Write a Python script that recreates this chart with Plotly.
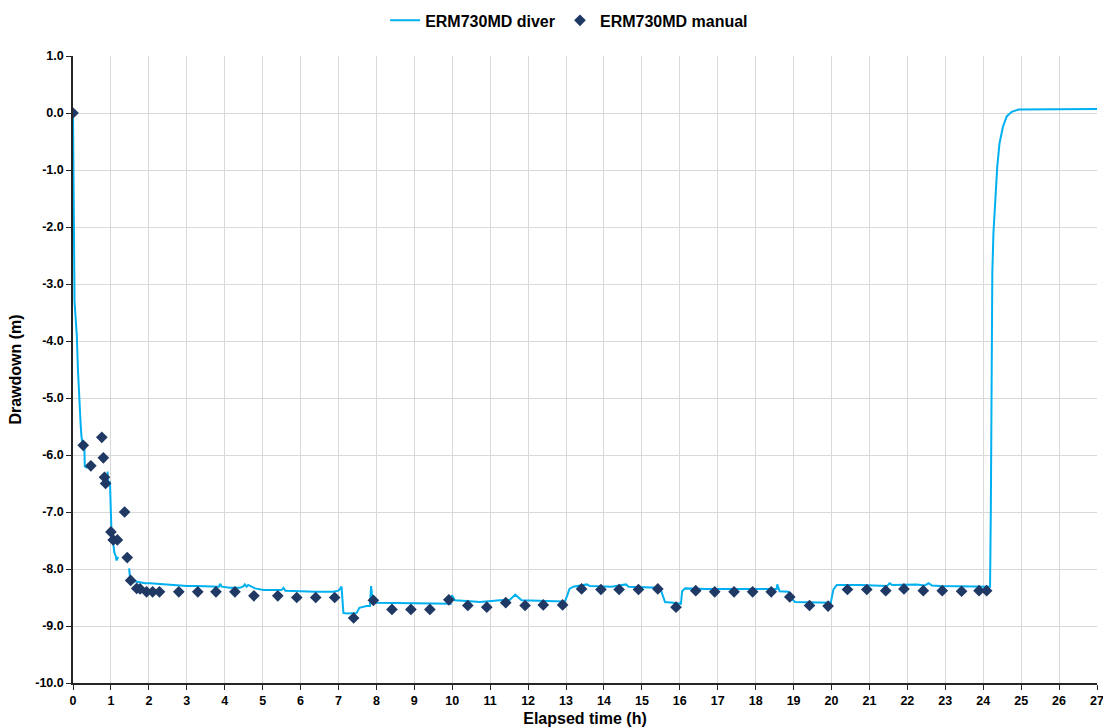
import plotly.graph_objects as go

# Continuous logger record (elapsed hours, drawdown in m); None marks logging gaps
diver_time = [
    0.00, 0.01, 0.02, 0.04, 0.07, 0.10, 0.13, 0.16, 0.20, 0.22, 0.25, 0.30, 0.31, 0.36, 0.42,
    None,
    0.91, 0.93, 0.975, 1.00, 1.02, 1.06, 1.09, 1.13, 1.15, 1.19,
    None,
    1.48, 1.50, 1.59, 1.68, 1.77, 1.90, 2.03, 2.38, 2.70, 3.00, 3.26, 3.60, 3.85, 3.88, 3.92,
    4.14, 4.40, 4.50, 4.53, 4.58, 4.62, 4.80, 5.02, 5.50, 5.55, 5.60, 5.90, 6.40, 6.86, 7.00,
    7.04, 7.08, 7.13, 7.22, 7.48, 7.55, 7.74, 7.83, 7.86, 7.90, 8.00, 8.62, 9.50, 9.96, 9.99,
    10.07, 10.38, 10.73, 11.26, 11.52, 11.66, 11.83, 12.49, 12.97, 13.04, 13.09, 13.19, 13.55,
    13.63, 14.20, 14.58, 14.65, 15.48, 15.55, 15.61, 15.83, 16.03, 16.06, 16.14, 16.70, 17.24,
    18.00, 18.55, 18.57, 18.63, 18.86, 18.95, 19.04, 19.50, 19.88, 19.98, 20.05, 20.14, 20.75,
    21.46, 21.53, 21.60, 22.25, 22.45, 22.56, 22.65, 22.86, 23.50, 24.18, 24.20, 24.22, 24.24,
    24.27, 24.31, 24.37, 24.43, 24.52, 24.62, 24.75, 24.93, 25.50, 26.20, 27.00,
]
diver_drawdown = [
    0.00, -1.00, -2.50, -3.30, -3.60, -3.90, -4.50, -5.00, -5.45, -5.65, -5.82, -5.85, -6.20, -6.22, -6.20,
    None,
    -6.29, -6.46, -6.48, -7.07, -7.48, -7.54, -7.71, -7.78, -7.85, -7.79,
    None,
    -7.99, -8.13, -8.21, -8.22, -8.24, -8.25, -8.25, -8.27, -8.28, -8.30, -8.30, -8.31, -8.31, -8.26, -8.31,
    -8.33, -8.33, -8.30, -8.27, -8.31, -8.28, -8.34, -8.37, -8.37, -8.33, -8.38, -8.39, -8.40, -8.40, -8.38,
    -8.35, -8.31, -8.77, -8.78, -8.77, -8.68, -8.65, -8.65, -8.30, -8.56, -8.59, -8.60, -8.61, -8.61, -8.46,
    -8.55, -8.56, -8.58, -8.55, -8.54, -8.45, -8.55, -8.56, -8.57, -8.45, -8.35, -8.31, -8.27,
    -8.30, -8.31, -8.27, -8.31, -8.33, -8.48, -8.58, -8.59, -8.61, -8.39, -8.34, -8.35, -8.35,
    -8.35, -8.35, -8.27, -8.39, -8.40, -8.52, -8.58, -8.58, -8.58, -8.59, -8.36, -8.28, -8.28,
    -8.30, -8.25, -8.28, -8.27, -8.29, -8.25, -8.29, -8.30, -8.30, -8.31, -7.00, -4.50, -2.80,
    -2.10, -1.52, -0.94, -0.53, -0.24, -0.06, 0.02, 0.06, 0.06, 0.07, 0.07,
]

# Manual dip-meter readings
manual_time = [
    0.00, 0.27, 0.47, 0.76, 0.80, 0.83, 0.86, 1.00, 1.06, 1.17, 1.36, 1.43, 1.52, 1.68, 1.77,
    1.94, 2.10, 2.28, 2.79, 3.29, 3.77, 4.27, 4.77, 5.40, 5.90, 6.40, 6.90, 7.40, 7.92, 8.41,
    8.91, 9.41, 9.91, 10.41, 10.91, 11.41, 11.92, 12.40, 12.91, 13.41, 13.92, 14.40, 14.91,
    15.42, 15.90, 16.42, 16.92, 17.43, 17.92, 18.41, 18.90, 19.42, 19.91, 20.42, 20.93, 21.43,
    21.91, 22.42, 22.92, 23.43, 23.89, 24.09,
]
manual_drawdown = [
    0.00, -5.83, -6.19, -5.69, -6.05, -6.39, -6.50, -7.35, -7.49, -7.49, -7.00, -7.80, -8.20, -8.34, -8.35,
    -8.40, -8.40, -8.40, -8.40, -8.40, -8.40, -8.40, -8.47, -8.47, -8.50, -8.50, -8.50, -8.86, -8.55, -8.71,
    -8.71, -8.71, -8.54, -8.64, -8.67, -8.59, -8.64, -8.63, -8.63, -8.35, -8.36, -8.36, -8.36,
    -8.35, -8.67, -8.38, -8.40, -8.40, -8.40, -8.40, -8.49, -8.64, -8.65, -8.36, -8.36, -8.38,
    -8.35, -8.38, -8.38, -8.39, -8.38, -8.38,
]

x_ticks = list(range(0, 28))
y_ticks = [1.0, 0.0, -1.0, -2.0, -3.0, -4.0, -5.0, -6.0, -7.0, -8.0, -9.0, -10.0]

fig = go.Figure()
fig.add_trace(go.Scatter(
    x=diver_time, y=diver_drawdown, mode="lines", name="ERM730MD diver",
    line=dict(color="#00b0f0", width=2), connectgaps=False,
))
fig.add_trace(go.Scatter(
    x=manual_time, y=manual_drawdown, mode="markers", name="ERM730MD manual",
    marker=dict(symbol="diamond", color="#203864", size=9),
))

font_family = "Liberation Sans, Arial, sans-serif"
fig.update_layout(
    width=1103, height=728,
    paper_bgcolor="white", plot_bgcolor="white",
    margin=dict(l=73, r=6, t=56, b=45, autoexpand=False),
    font=dict(family=font_family, color="#000000"),
    showlegend=True,
    legend=dict(
        orientation="h", x=0.516, xanchor="center", xref="container",
        y=0.972, yanchor="middle", yref="container",
        font=dict(size=16, family=font_family, weight="bold", color="#000000"),
        tracegroupgap=0,
    ),
    xaxis=dict(
        range=[0, 27], tickvals=x_ticks, ticktext=[str(t) for t in x_ticks],
        showgrid=True, gridcolor="#d9d9d9", gridwidth=1.3,
        showline=True, linecolor="#262626", linewidth=1.5,
        ticks="outside", ticklen=5, tickcolor="#262626",
        tickfont=dict(size=12.5, weight="bold", family=font_family),
        ticklabeloverflow="allow",
        title=dict(text="Elapsed time (h)", font=dict(size=16, weight="bold", family=font_family), standoff=6),
        zeroline=False,
    ),
    yaxis=dict(
        range=[-10, 1], tickvals=y_ticks, ticktext=[f"{v:.1f}" for v in y_ticks],
        showgrid=True, gridcolor="#d9d9d9", gridwidth=1.3,
        showline=True, linecolor="#262626", linewidth=1.5,
        ticks="outside", ticklen=5, tickcolor="#262626",
        tickfont=dict(size=12.5, weight="bold", family=font_family),
        title=dict(text="Drawdown (m)", font=dict(size=16, weight="bold", family=font_family), standoff=10),
        zeroline=False,
    ),
)

fig.write_html("out.html")
